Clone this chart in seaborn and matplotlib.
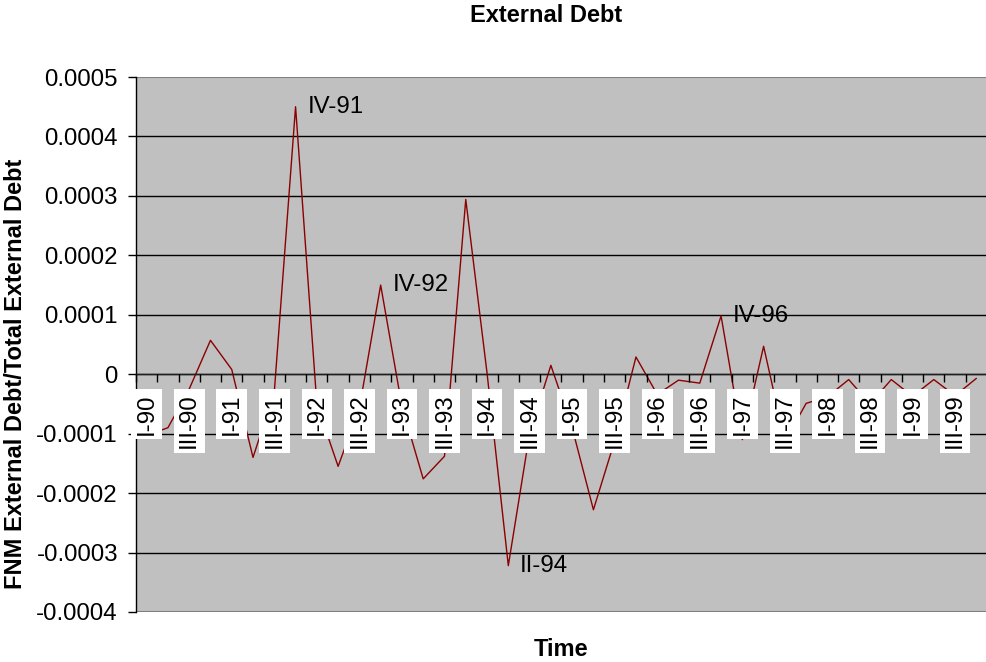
import numpy as np
import pandas as pd
import matplotlib
matplotlib.use("Agg")
import matplotlib.pyplot as plt
import seaborn as sns
from matplotlib.ticker import FuncFormatter, FixedLocator

quarters = [f"{q}-{y}" for y in range(90, 100) for q in ["I", "II", "III", "IV"]]
values = [
    -0.000103, -0.000090, -0.000025, 0.000057,   # 90
    0.000008, -0.000140, -0.000030, 0.000450,    # 91
    -0.000050, -0.000155, -0.000057, 0.000150,   # 92
    -0.000054, -0.000176, -0.000138, 0.000294,   # 93
    0.000002, -0.000322, -0.000100, 0.000015,    # 94
    -0.000090, -0.000228, -0.000112, 0.000029,   # 95
    -0.000034, -0.000010, -0.000015, 0.000098,   # 96
    -0.000110, 0.000047, -0.000113, -0.000049,   # 97
    -0.000038, -0.000009, -0.000050, -0.000009,  # 98
    -0.000037, -0.000009, -0.000036, -0.000007,  # 99
]
marked = ["IV-91", "IV-92", "II-94", "IV-96"]
y_ticks = [-0.0004, -0.0003, -0.0002, -0.0001, 0.0, 0.0001, 0.0002, 0.0003, 0.0004, 0.0005]

df = pd.DataFrame({"quarter": quarters, "value": values})
df["pos"] = np.arange(len(df))

sns.set_style("white", {"xtick.bottom": True, "ytick.left": True,
                        "text.color": "black", "axes.labelcolor": "black",
                        "xtick.color": "black", "ytick.color": "black"})
plt.rcParams["font.family"] = ["Liberation Sans", "DejaVu Sans"]

fig, ax = plt.subplots(figsize=(9.87, 6.62), dpi=100)
fig.subplots_adjust(left=136 / 987, right=1.0, bottom=50 / 662, top=585 / 662)
ax.set_facecolor("#C0C0C0")

sns.lineplot(data=df, x="pos", y="value", color="#8B0000", linewidth=1.0, ax=ax)

# peak labels
for q in marked:
    row = df[df["quarter"] == q].iloc[0]
    ax.annotate(q, (row["pos"], row["value"]), xytext=(8.5, 0),
                textcoords="offset points", ha="left", va="center",
                fontsize=17.3, color="black", zorder=4)

ax.set_xlim(-0.5, len(df) - 0.5)
ax.set_ylim(y_ticks[0], y_ticks[-1])
ax.set_yticks(y_ticks)
ax.yaxis.set_major_formatter(FuncFormatter(
    lambda v, p: "0" if abs(v) < 1e-12 else f"{v:.4f}"))
ax.yaxis.grid(True, color="black", linewidth=1.0)
for gl, t in zip(ax.get_ygridlines(), y_ticks):
    if t in (y_ticks[0], y_ticks[-1]):
        gl.set_color("#808080")
        gl.set_linewidth(1.5)

# category axis crossing at zero, labels on every other quarter
ax.spines["bottom"].set_position(("data", 0))
ax.spines["bottom"].set_color("#202020")
ax.spines["bottom"].set_linewidth(1.0)
ax.spines["top"].set_visible(False)
ax.spines["right"].set_visible(False)
ax.spines["left"].set_color("black")
ax.spines["left"].set_linewidth(1.0)

ax.set_xticks(df["pos"][::2], df["quarter"][::2],
              bbox=dict(facecolor="white", edgecolor="none", pad=1.8))
ax.xaxis.set_minor_locator(FixedLocator(np.arange(-0.5, len(df), 1.0)))
ax.tick_params(axis="x", which="major", length=0, pad=14, labelsize=17.3,
               labelrotation=90, labelcolor="black")
ax.tick_params(axis="x", which="minor", length=5.5, width=1, direction="out",
               color="black", bottom=True, top=False)
ax.tick_params(axis="y", which="major", length=6, width=1, direction="out",
               color="black", pad=7, labelsize=17.3, left=True, labelcolor="black")
ax.set_axisbelow(True)
ax.xaxis.set_zorder(3)

ax.set_xlabel("Time", fontsize=17, fontweight="bold", color="black")
ax.xaxis.set_label_coords(0.5, -37 / 535)
ax.xaxis.label.set_va("center")
ax.set_ylabel("FNM External Debt/Total External Debt", fontsize=17,
              fontweight="bold", color="black")
ax.yaxis.set_label_coords(-120 / 851, 238 / 535)
ax.yaxis.label.set_va("center")

fig.text(546 / 987, 1 - 15 / 662, "External Debt", ha="center", va="center",
         fontsize=17, fontweight="bold", color="black")

fig.savefig("out.png", dpi=100)
